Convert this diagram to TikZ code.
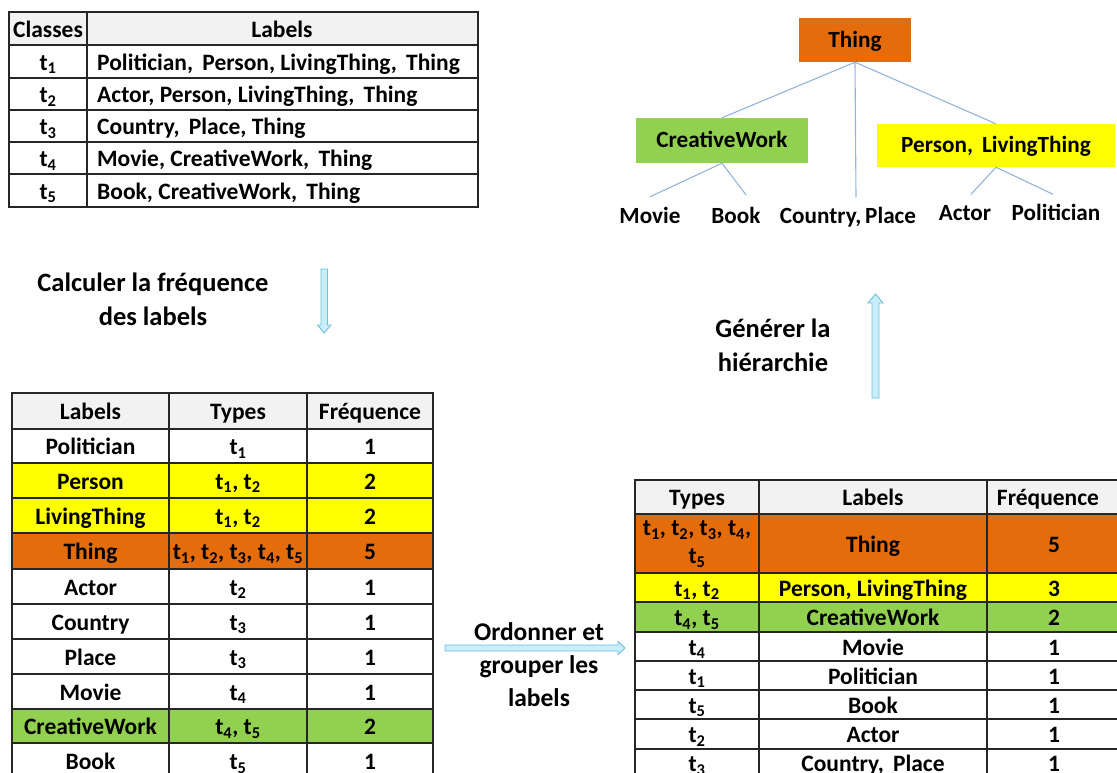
\documentclass[tikz,border=0pt]{standalone}
\usepackage{fontspec}
\setmainfont{Carlito}
\usetikzlibrary{calc}
\definecolor{hdr}{HTML}{F2F2F2}
\definecolor{org}{HTML}{E46C0A}
\definecolor{ylw}{HTML}{FFFF00}
\definecolor{grn}{HTML}{92D050}
\definecolor{edgeblue}{HTML}{95B3D7}
\definecolor{arrfill}{HTML}{C9EEF9}
\definecolor{arrline}{HTML}{6CC0DD}
\newcommand\tsb[1]{t\textsubscript{#1}}
\newcommand\cellbox[5]{\filldraw[cellline, fill=#5] (#1,#2) rectangle (#3,#4);}
\begin{document}
\begin{tikzpicture}[x=1pt,y=-1pt,
  cellline/.style={draw=black!85, line width=1.2pt},
  txtbase/.style={font=\bfseries\fontsize{23.5}{26}\selectfont, inner sep=0pt},
  txt/.style={txtbase, text height=17.5pt, text depth=0pt},
  lbl/.style={font=\bfseries\fontsize{26.5}{34}\selectfont, align=center, inner sep=0pt},
  tbox/.style={font=\bfseries\fontsize{23.2}{26}\selectfont, draw=none, inner sep=0pt, text height=15pt, text depth=0pt},
  edge/.style={draw=edgeblue, line width=1.1pt},
  blockarrow/.style={fill=arrfill, draw=arrline, line width=0.9pt, line join=miter}]
\useasboundingbox (0,0) rectangle (1117,773);

% ---------- top-left table ----------
\cellbox{9}{12}{87}{45}{hdr}\cellbox{87}{12}{478}{45}{hdr}
\cellbox{9}{45}{87}{78}{white}\cellbox{87}{45}{478}{78}{white}
\cellbox{9}{78}{87}{110}{white}\cellbox{87}{78}{478}{110}{white}
\cellbox{9}{110}{87}{142}{white}\cellbox{87}{110}{478}{142}{white}
\cellbox{9}{142}{87}{174}{white}\cellbox{87}{142}{478}{174}{white}
\cellbox{9}{174}{87}{207}{white}\cellbox{87}{174}{478}{207}{white}
\node[txt] (tc0) at (48,28.5) {Classes};
\node[txt] (tl0) at (282,28.5) {Labels};
\node[txt] (tc1) at (48,61.5) {\tsb{1}};
\node[txt,anchor=west] (tl1) at (97,61.5) {Politician, \,Person, LivingThing, \,Thing};
\node[txt] (tc2) at (48,94) {\tsb{2}};
\node[txt,anchor=west] (tl2) at (97,94) {Actor, Person, LivingThing, \,Thing};
\node[txt] (tc3) at (48,126) {\tsb{3}};
\node[txt,anchor=west] (tl3) at (97,126) {Country, \,Place, Thing};
\node[txt] (tc4) at (48,158) {\tsb{4}};
\node[txt,anchor=west] (tl4) at (97,158) {Movie, CreativeWork, \,Thing};
\node[txt] (tc5) at (48,190.5) {\tsb{5}};
\node[txt,anchor=west] (tl5) at (97,190.5) {Book, CreativeWork, \,Thing};

% ---------- tree ----------
\node[tbox, fill=org, minimum width=112pt, minimum height=44pt] (thing) at (855,40) {Thing};
\node[tbox, fill=grn, minimum width=172pt, minimum height=45pt] (cw) at (722,140.5) {CreativeWork};
\node[tbox, fill=ylw, minimum width=238pt, minimum height=43pt] (pl) at (996,145.5) {Person, \,LivingThing};
\node[tbox] (movie) at (650,215.5) {Movie};
\node[tbox] (book) at (736,215.5) {Book};
\node[tbox] (cp) at (848,215.5) {Country,\,Place};
\node[tbox] (actor) at (965,213) {Actor};
\node[tbox] (pol) at (1056,213) {Politician};
\coordinate (cpend) at (856,197);
\draw[edge] (thing.south) -- (cw.north);
\draw[edge] (thing.south) -- (cpend);
\draw[edge] (thing.south) -- (pl.north);
\draw[edge] (cw.south) -- ([yshift=11pt]movie.north);
\draw[edge] (cw.south) -- ([xshift=10pt,yshift=13pt]book.north);
\draw[edge] (pl.south) -- ([xshift=6pt,yshift=11pt]actor.north);
\draw[edge] (pl.south) -- ([xshift=-3pt,yshift=11pt]pol.north);

% ---------- step labels and arrows ----------
\node[lbl] (calc) at (153,299) {Calculer la fréquence\\des labels};
\filldraw[blockarrow] (321,269) -- (327.5,269) -- (327.5,325) -- (331,325) -- (324.2,333) -- (317.5,325) -- (321,325) -- cycle;
\node[lbl] (gen) at (773,345) {Générer la\\hiérarchie};
\filldraw[blockarrow] (872,398) -- (879,398) -- (879,303) -- (883,303) -- (875.5,294) -- (868,303) -- (872,303) -- cycle;
\node[lbl, font=\bfseries\fontsize{25.5}{33}\selectfont] (ord) at (539,665) {Ordonner et\\grouper les\\labels};
\filldraw[blockarrow] (445,645) -- (618,645) -- (618,641.5) -- (625,648) -- (618,654.5) -- (618,651) -- (445,651) -- cycle;

% ---------- bottom-left table ----------
\cellbox{12}{393}{169}{429}{hdr}\cellbox{169}{393}{307}{429}{hdr}\cellbox{307}{393}{433}{429}{hdr}
\cellbox{12}{429}{169}{463}{white}\cellbox{169}{429}{307}{463}{white}\cellbox{307}{429}{433}{463}{white}
\cellbox{12}{463}{169}{498}{ylw}\cellbox{169}{463}{307}{498}{ylw}\cellbox{307}{463}{433}{498}{ylw}
\cellbox{12}{498}{169}{533}{ylw}\cellbox{169}{498}{307}{533}{ylw}\cellbox{307}{498}{433}{533}{ylw}
\cellbox{12}{533}{169}{569}{org}\cellbox{169}{533}{307}{569}{org}\cellbox{307}{533}{433}{569}{org}
\cellbox{12}{569}{169}{604}{white}\cellbox{169}{569}{307}{604}{white}\cellbox{307}{569}{433}{604}{white}
\cellbox{12}{604}{169}{639}{white}\cellbox{169}{604}{307}{639}{white}\cellbox{307}{604}{433}{639}{white}
\cellbox{12}{639}{169}{674}{white}\cellbox{169}{639}{307}{674}{white}\cellbox{307}{639}{433}{674}{white}
\cellbox{12}{674}{169}{709}{white}\cellbox{169}{674}{307}{709}{white}\cellbox{307}{674}{433}{709}{white}
\cellbox{12}{709}{169}{743}{grn}\cellbox{169}{709}{307}{743}{grn}\cellbox{307}{709}{433}{743}{grn}
\cellbox{12}{743}{169}{790}{white}\cellbox{169}{743}{307}{790}{white}\cellbox{307}{743}{433}{790}{white}
\node[txt] (la0) at (90.5,411) {Labels};
\node[txt] (lb0) at (238,411) {Types};
\node[txt] (lc0) at (370,411) {Fréquence};
\node[txt] (la1) at (90.5,446) {Politician};
\node[txt] (lb1) at (238,446) {\tsb{1}};
\node[txt] (lc1) at (370,446) {1};
\node[txt] (la2) at (90.5,480.5) {Person};
\node[txt] (lb2) at (238,480.5) {\tsb{1}, \tsb{2}};
\node[txt] (lc2) at (370,480.5) {2};
\node[txt] (la3) at (90.5,515.5) {LivingThing};
\node[txt] (lb3) at (238,515.5) {\tsb{1}, \tsb{2}};
\node[txt] (lc3) at (370,515.5) {2};
\node[txt] (la4) at (90.5,551) {Thing};
\node[txt] (lb4) at (238,551) {\tsb{1}, \tsb{2}, \tsb{3}, \tsb{4}, \tsb{5}};
\node[txt] (lc4) at (370,551) {5};
\node[txt] (la5) at (90.5,586.5) {Actor};
\node[txt] (lb5) at (238,586.5) {\tsb{2}};
\node[txt] (lc5) at (370,586.5) {1};
\node[txt] (la6) at (90.5,621.5) {Country};
\node[txt] (lb6) at (238,621.5) {\tsb{3}};
\node[txt] (lc6) at (370,621.5) {1};
\node[txt] (la7) at (90.5,656.5) {Place};
\node[txt] (lb7) at (238,656.5) {\tsb{3}};
\node[txt] (lc7) at (370,656.5) {1};
\node[txt] (la8) at (90.5,691.5) {Movie};
\node[txt] (lb8) at (238,691.5) {\tsb{4}};
\node[txt] (lc8) at (370,691.5) {1};
\node[txt] (la9) at (90.5,726) {CreativeWork};
\node[txt] (lb9) at (238,726) {\tsb{4}, \tsb{5}};
\node[txt] (lc9) at (370,726) {2};
\node[txt] (la10) at (90.5,761) {Book};
\node[txt] (lb10) at (238,761) {\tsb{5}};
\node[txt] (lc10) at (370,761) {1};

% ---------- bottom-right table ----------
\cellbox{635}{480}{759}{514}{hdr}\cellbox{759}{480}{987}{514}{hdr}\cellbox{987}{480}{1125}{514}{hdr}
\cellbox{635}{514}{759}{573}{org}\cellbox{759}{514}{987}{573}{org}\cellbox{987}{514}{1125}{573}{org}
\cellbox{635}{573}{759}{602}{ylw}\cellbox{759}{573}{987}{602}{ylw}\cellbox{987}{573}{1125}{602}{ylw}
\cellbox{635}{602}{759}{632}{grn}\cellbox{759}{602}{987}{632}{grn}\cellbox{987}{602}{1125}{632}{grn}
\cellbox{635}{632}{759}{661}{white}\cellbox{759}{632}{987}{661}{white}\cellbox{987}{632}{1125}{661}{white}
\cellbox{635}{661}{759}{690}{white}\cellbox{759}{661}{987}{690}{white}\cellbox{987}{661}{1125}{690}{white}
\cellbox{635}{690}{759}{719}{white}\cellbox{759}{690}{987}{719}{white}\cellbox{987}{690}{1125}{719}{white}
\cellbox{635}{719}{759}{749}{white}\cellbox{759}{719}{987}{749}{white}\cellbox{987}{719}{1125}{749}{white}
\cellbox{635}{749}{759}{790}{white}\cellbox{759}{749}{987}{790}{white}\cellbox{987}{749}{1125}{790}{white}
\node[txt] (ra0) at (697,497) {Types};
\node[txt] (rb0) at (873,497) {Labels};
\node[txt] (rc0) at (1048,497) {Fréquence};
\node[txtbase, align=center, font=\bfseries\fontsize{23.5}{28}\selectfont] (ra1) at (697,544) {\tsb{1}, \tsb{2}, \tsb{3}, \tsb{4},\\\tsb{5}};
\node[txt] (rb1) at (873,543.5) {Thing};
\node[txt] (rc1) at (1054,543.5) {5};
\node[txt] (ra2) at (697,587.5) {\tsb{1}, \tsb{2}};
\node[txt] (rb2) at (873,587.5) {Person, LivingThing};
\node[txt] (rc2) at (1054,587.5) {3};
\node[txt] (ra3) at (697,617) {\tsb{4}, \tsb{5}};
\node[txt] (rb3) at (873,617) {CreativeWork};
\node[txt] (rc3) at (1054,617) {2};
\node[txt] (ra4) at (697,646.5) {\tsb{4}};
\node[txt] (rb4) at (873,646.5) {Movie};
\node[txt] (rc4) at (1054,646.5) {1};
\node[txt] (ra5) at (697,675.5) {\tsb{1}};
\node[txt] (rb5) at (873,675.5) {Politician};
\node[txt] (rc5) at (1054,675.5) {1};
\node[txt] (ra6) at (697,704.5) {\tsb{5}};
\node[txt] (rb6) at (873,704.5) {Book};
\node[txt] (rc6) at (1054,704.5) {1};
\node[txt] (ra7) at (697,734) {\tsb{2}};
\node[txt] (rb7) at (873,734) {Actor};
\node[txt] (rc7) at (1054,734) {1};
\node[txt] (ra8) at (697,763) {\tsb{3}};
\node[txt] (rb8) at (873,763) {Country, \,Place};
\node[txt] (rc8) at (1054,763) {1};
\end{tikzpicture}
\end{document}
